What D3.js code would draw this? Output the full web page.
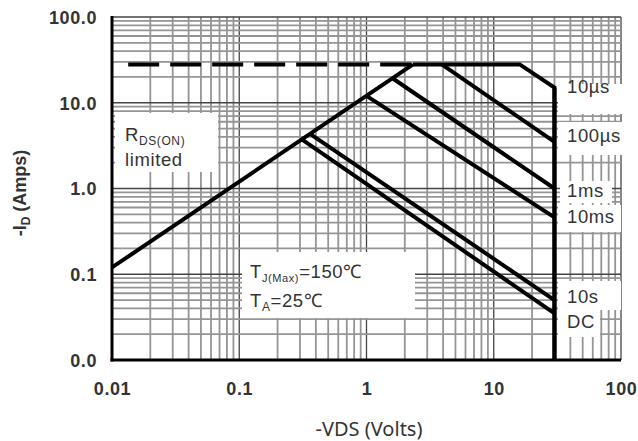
<!DOCTYPE html>
<html>
<head>
<meta charset="utf-8">
<style>
  body { margin: 0; background: #fff; }
  svg { display: block; }
  .tick text { font-family: "Liberation Sans", Arial, sans-serif; font-weight: bold; font-size: 18px; fill: #333; letter-spacing: 0.6px; }
  .lbl { font-family: "Liberation Sans", Arial, sans-serif; font-size: 18.5px; fill: #333; letter-spacing: 0.6px; }
  .curve { fill: none; stroke: #000; stroke-width: 4; stroke-linejoin: miter; }
</style>
</head>
<body>
<svg width="638" height="441"></svg>
<script src="https://d3js.org/d3.v7.min.js"></script>
<script>
// axis ticks + labels
var xTicks = [0.01, 0.1, 1, 10, 100];
var xLabels = ["0.01", "0.1", "1", "10", "100"];
var yTicks = [100, 10, 1, 0.1, 0.01];
var yLabels = ["100.0", "10.0", "1.0", "0.1", "0.0"];

// SOA boundaries, [VDS, ID]
var rdsLimit = [[0.01, 0.12], [2.32, 28]];
var currentLimit = [[0.0134, 28], [2.32, 28]];   // dashed part
var env10us = [[2.32, 28], [16, 28], [30, 15], [30, 0.01]];
var line100us = [[3.9, 28], [30, 3.5]];
var line1ms = [[1.6, 19.3], [30, 1.0]];
var line10ms = [[1.0, 12.05], [30, 0.46]];
var line10s = [[0.36, 4.34], [30, 0.05]];
var lineDC = [[0.31, 3.74], [30, 0.035]];

var pulseNames = ["10\u00b5s", "100\u00b5s", "1ms", "10ms", "10s", "DC"];
var pulseLabelY = [15.5, 4.1, 0.95, 0.47, 0.055, 0.028];

var margin = {top: 17, left: 112, right: 17, bottom: 81},
    width = 638 - margin.left - margin.right,
    height = 441 - margin.top - margin.bottom;

var x = d3.scaleLog().domain([0.01, 100]).range([0, width]);
var y = d3.scaleLog().domain([0.01, 100]).range([height, 0]);

var svg = d3.select("svg").append("g")
    .attr("transform", "translate(" + margin.left + "," + margin.top + ")");

// grid: 1..9 per decade
var gridVals = [];
[0.01, 0.1, 1, 10].forEach(function(d) {
  for (var k = 1; k <= 9; k++) gridVals.push({v: k * d, major: k == 1});
});
gridVals.push({v: 100, major: true});

svg.append("g").selectAll("line.v").data(gridVals).enter().append("line")
    .attr("x1", function(d) { return x(d.v); }).attr("x2", function(d) { return x(d.v); })
    .attr("y1", 0).attr("y2", height)
    .attr("stroke", function(d) { return d.major ? "#444" : "#959595"; })
    .attr("stroke-width", function(d) { return d.major ? 1.3 : 1.8; });

svg.append("g").selectAll("line.h").data(gridVals).enter().append("line")
    .attr("y1", function(d) { return y(d.v); }).attr("y2", function(d) { return y(d.v); })
    .attr("x1", 0).attr("x2", width)
    .attr("stroke", function(d) { return d.major ? "#444" : "#959595"; })
    .attr("stroke-width", function(d) { return d.major ? 1.3 : 1.8; });

// white boxes behind the annotations
function box(x0, y0, x1, y1) {
  svg.append("rect").attr("x", x0 - margin.left).attr("y", y0 - margin.top)
    .attr("width", x1 - x0).attr("height", y1 - y0).attr("fill", "#fff");
}
box(115, 113, 218, 172);
box(242, 252, 415, 318);
box(558, 84, 628, 114);
box(558, 122, 628, 155);
box(560, 181, 612, 203);
box(558, 205, 621, 232);
box(558, 281, 621, 310);
box(558, 310, 600, 337);

// curves
var line = d3.line().x(function(d) { return x(d[0]); }).y(function(d) { return y(d[1]); });

svg.append("path").attr("class", "curve").attr("d", line(currentLimit))
    .attr("stroke-width", 3.2).attr("stroke-dasharray", "31,11");
[rdsLimit, env10us, line100us, line1ms, line10ms, line10s, lineDC].forEach(function(c) {
  svg.append("path").attr("class", "curve").attr("d", line(c));
});
svg.append("path").attr("class", "curve").attr("stroke-width", 5)
    .attr("d", line([env10us[2], env10us[3]]));

// axes
var xAxis = svg.append("g").attr("transform", "translate(0," + height + ")")
    .call(d3.axisBottom(x).tickValues(xTicks).tickSize(0).tickPadding(22)
      .tickFormat(function(d, i) { return xLabels[i]; }));
var yAxis = svg.append("g")
    .call(d3.axisLeft(y).tickValues(yTicks).tickSize(0).tickPadding(15)
      .tickFormat(function(d, i) { return yLabels[i]; }));
xAxis.select(".domain").remove();
yAxis.select(".domain").remove();
yAxis.selectAll("text").attr("dy", "0.35em");

svg.append("line").attr("x1", 0).attr("x2", 0).attr("y1", -1).attr("y2", height + 1.5)
    .attr("stroke", "#000").attr("stroke-width", 3);
svg.append("line").attr("x1", -1.5).attr("x2", width).attr("y1", height).attr("y2", height)
    .attr("stroke", "#000").attr("stroke-width", 3);

// pulse labels
svg.selectAll("text.pl").data(pulseNames).enter().append("text")
    .attr("class", "lbl")
    .attr("x", 567 - margin.left)
    .attr("y", function(d, i) { return y(pulseLabelY[i]); })
    .attr("dy", "0.35em")
    .text(function(d) { return d; });

// RDS(ON) limited
var r = svg.append("text").attr("class", "lbl").attr("x", 125 - margin.left).attr("y", 141 - margin.top);
r.append("tspan").text("R");
r.append("tspan").attr("font-size", "12px").attr("dy", 4).text("DS(ON)");
svg.append("text").attr("class", "lbl").attr("x", 125 - margin.left).attr("y", 166 - margin.top).text("limited");

// temperatures
var t1 = svg.append("text").attr("class", "lbl").attr("x", 250 - margin.left).attr("y", 278 - margin.top);
t1.append("tspan").text("T");
t1.append("tspan").attr("font-size", "11px").attr("dy", 4).text("J(Max)");
t1.append("tspan").attr("dy", -4).text("=150\u2103");
var t2 = svg.append("text").attr("class", "lbl").attr("x", 250 - margin.left).attr("y", 307 - margin.top);
t2.append("tspan").text("T");
t2.append("tspan").attr("font-size", "12px").attr("dy", 4).text("A");
t2.append("tspan").attr("dy", -4).text("=25\u2103");

// axis titles
var yt = d3.select("svg").append("text")
    .attr("transform", "translate(26,193) rotate(-90)")
    .attr("text-anchor", "middle")
    .style("font-family", "Liberation Sans, Arial, sans-serif")
    .style("font-weight", "bold").style("font-size", "18px").style("fill", "#333");
yt.append("tspan").text("-I");
yt.append("tspan").attr("font-size", "12px").attr("dy", 4).text("D");
yt.append("tspan").attr("dy", -4).text(" (Amps)");

d3.select("svg").append("text")
    .attr("x", 369).attr("y", 436)
    .attr("text-anchor", "middle")
    .style("font-family", "Noto Sans, sans-serif")
    .style("font-size", "20px").style("fill", "#333")
    .text("-VDS (Volts)");
</script>
</body>
</html>
